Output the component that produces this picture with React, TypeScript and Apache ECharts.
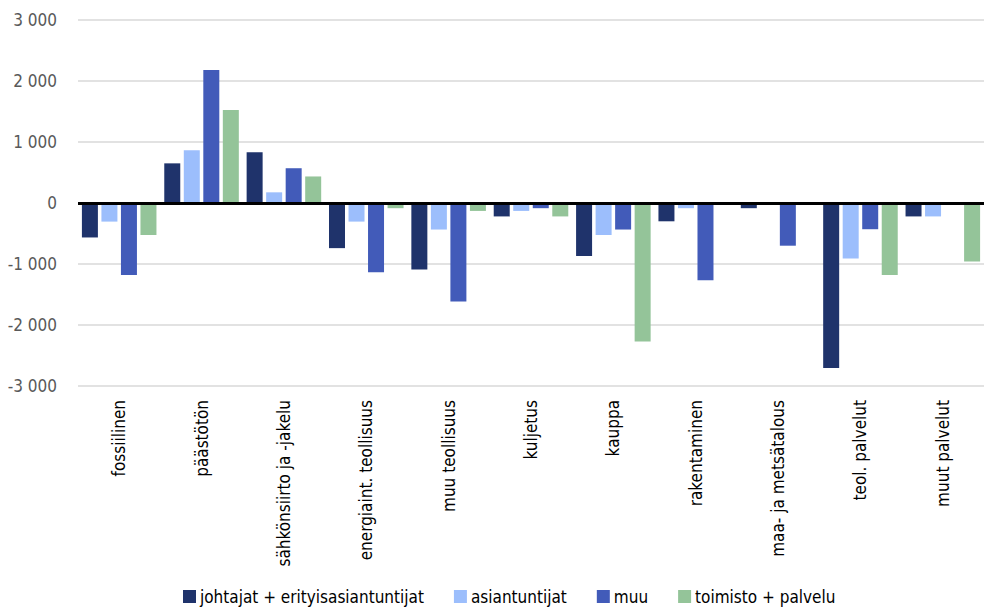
import React, { useEffect, useRef } from "react";
import * as echarts from "echarts";

const categories = [
  "fossiilinen",
  "päästötön",
  "sähkönsiirto ja -jakelu",
  "energiaint. teollisuus",
  "muu teollisuus",
  "kuljetus",
  "kauppa",
  "rakentaminen",
  "maa- ja metsätalous",
  "teol. palvelut",
  "muut palvelut",
];

const seriesNames = [
  "johtajat + erityisasiantuntijat",
  "asiantuntijat",
  "muu",
  "toimisto + palvelu",
];

const johtajat = [-565, 650, 830, -740, -1090, -220, -870, -300, -85, -2705, -220];
const asiantuntijat = [-305, 865, 175, -305, -435, -130, -525, -85, -20, -910, -220];
const muu = [-1180, 2180, 570, -1135, -1615, -85, -435, -1265, -700, -430, -20];
const toimisto = [-525, 1525, 435, -85, -130, -220, -2270, -25, -10, -1180, -960];

const yTicks = [-3000, -2000, -1000, 0, 1000, 2000, 3000];

const colors = ["#1F336B", "#9CBEFC", "#425BB9", "#94C499"];
const FONT = "'DejaVu Sans Condensed', 'Liberation Sans Narrow', sans-serif";

export default function App() {
  const ref = useRef<HTMLDivElement>(null);
  useEffect(() => {
    if (!ref.current) return;
    const chart = echarts.init(ref.current, null, { renderer: "svg" });
    const data = [johtajat, asiantuntijat, muu, toimisto];
    const fmt = (v: number) => {
      const s = Math.abs(v).toString().replace(/\B(?=(\d{3})+(?!\d))/g, " ");
      return (v < 0 ? "-" : "") + s;
    };
    chart.setOption({
      animation: false,
      color: colors,
      textStyle: { fontFamily: FONT },
      grid: { left: 78, top: 20, width: 911, height: 366, containLabel: false },
      legend: {
        bottom: 2,
        left: 178,
        itemWidth: 13,
        itemHeight: 13,
        itemGap: 30,
        icon: "rect",
        textStyle: { fontFamily: FONT, fontSize: 17, color: "#000", padding: [0, 0, 0, -1] },
        data: seriesNames,
      },
      xAxis: {
        type: "category",
        data: categories,
        position: "bottom",
        axisLine: { show: false, onZero: false },
        axisTick: { show: false },
        axisLabel: {
          rotate: 90,
          interval: 0,
          margin: 14,
          fontFamily: FONT,
          fontSize: 17,
          color: "#000",
        },
      },
      yAxis: {
        type: "value",
        min: yTicks[0],
        max: yTicks[yTicks.length - 1],
        interval: 1000,
        axisLine: { show: false },
        axisTick: { show: false },
        splitLine: { lineStyle: { color: "#D9D9D9", width: 1.5 } },
        axisLabel: {
          margin: 21,
          fontFamily: FONT,
          fontSize: 17,
          color: "#595959",
          formatter: (v: number) => fmt(v),
        },
      },
      series: seriesNames.map((name, i) => ({
        name,
        type: "bar",
        data: data[i],
        barWidth: 16,
        barGap: "22%",
        itemStyle: { color: colors[i] },
        ...(i === 0
          ? {
              markLine: {
                silent: true,
                symbol: ["none", "none"],
                label: { show: false },
                lineStyle: { color: "#000", width: 3, type: "solid" },
                data: [{ yAxis: 0 }],
                z: 10,
              },
            }
          : {}),
      })),
    });
    return () => chart.dispose();
  }, []);
  return (
    <div
      ref={ref}
      style={{ position: "fixed", left: 0, top: 0, width: 984, height: 612, background: "#fff" }}
    />
  );
}
